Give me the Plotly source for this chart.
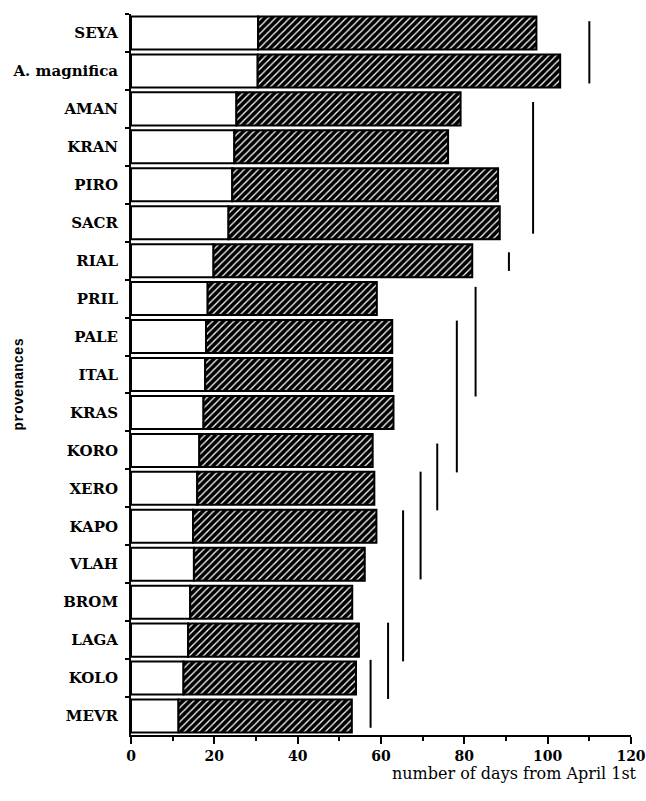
import plotly.graph_objects as go

provenances = ["SEYA", "A. magnifica", "AMAN", "KRAN", "PIRO", "SACR", "RIAL", "PRIL",
               "PALE", "ITAL", "KRAS", "KORO", "XERO", "KAPO", "VLAH", "BROM", "LAGA",
               "KOLO", "MEVR"]
first_phase_end = [30.5, 30.4, 25.3, 24.8, 24.3, 23.4, 19.8, 18.4, 18.0, 17.8, 17.4,
                   16.4, 15.9, 14.9, 15.1, 14.2, 13.7, 12.6, 11.4]
second_phase_end = [97.3, 103.0, 79.1, 76.1, 88.1, 88.5, 81.9, 59.0, 62.7, 62.7, 63.0,
                    58.0, 58.4, 58.9, 56.1, 53.1, 54.7, 54.0, 53.0]

# homogeneous groups: x position, first row index (offset), last row index (offset)
group_x = [110.0, 96.5, 90.7, 82.7, 78.2, 73.5, 69.5, 65.3, 61.7, 57.5]
group_from = [-0.31, 1.82, 5.78, 6.69, 7.58, 10.82, 11.56, 12.58, 15.54, 16.52]
group_to = [1.33, 5.29, 6.27, 9.58, 11.58, 12.58, 14.4, 16.56, 17.55, 18.31]

x_ticks = [0, 20, 40, 60, 80, 100, 120]

serif = "DejaVu Serif"
fig = go.Figure()

fig.add_trace(go.Bar(
    y=provenances, x=first_phase_end, orientation="h",
    marker=dict(color="white", line=dict(color="black", width=2)),
    width=0.87, showlegend=False, hoverinfo="skip"))

fig.add_trace(go.Bar(
    y=provenances,
    x=[e - s for s, e in zip(first_phase_end, second_phase_end)],
    base=first_phase_end, orientation="h",
    marker=dict(color="black",
                line=dict(color="black", width=2),
                pattern=dict(shape="/", fgcolor="white", bgcolor="black",
                             size=5, solidity=0.25, fillmode="replace")),
    width=0.87, showlegend=False, hoverinfo="skip"))

for gx, g0, g1 in zip(group_x, group_from, group_to):
    fig.add_trace(go.Scatter(
        x=[gx, gx], y=[g0, g1], mode="lines", yaxis="y2",
        line=dict(color="black", width=2), showlegend=False, hoverinfo="skip"))

fig.update_layout(
    width=646, height=801,
    margin=dict(l=131, r=15, t=14, b=66),
    paper_bgcolor="white", plot_bgcolor="white",
    barmode="overlay",
    xaxis=dict(range=[0, 120], tickvals=x_ticks, ticks="outside", ticklen=7,
               tickwidth=2, tickcolor="black",
               minor=dict(dtick=10, ticks="outside", ticklen=4, tickcolor="black", tickwidth=1.5),
               showline=True, linecolor="black", linewidth=2,
               showgrid=False, zeroline=False, automargin=False,
               tickfont=dict(family=serif, size=14, color="black", weight="bold")),
    yaxis=dict(type="category", categoryorder="array", categoryarray=provenances,
               range=[18.5, -0.5], tickson="boundaries", ticks="outside",
               ticklen=4, tickwidth=2, tickcolor="black", automargin=False,
               showline=True, linecolor="black", linewidth=2, showgrid=False,
               ticklabelstandoff=8,
               tickfont=dict(family=serif, size=15, color="black", weight="bold")),
    yaxis2=dict(overlaying="y", range=[18.5, -0.5], visible=False, showgrid=False),
    annotations=[
        dict(text="number of days from April 1st", xref="paper", yref="paper",
             x=1, y=0, xanchor="right", yanchor="top", xshift=8, yshift=-27,
             showarrow=False, font=dict(family=serif, size=16, color="black")),
        dict(text="provenances", xref="paper", yref="paper", x=0, y=0.5,
             xanchor="center", yanchor="middle", xshift=-113, yshift=-10, textangle=-90,
             showarrow=False, font=dict(family="Liberation Mono", size=14, color="black",
                                        weight="bold")),
    ],
)

fig.write_html("out.html", config={"displayModeBar": False},
               post_script="document.body.style.margin='0';document.body.style.overflow='hidden';")
